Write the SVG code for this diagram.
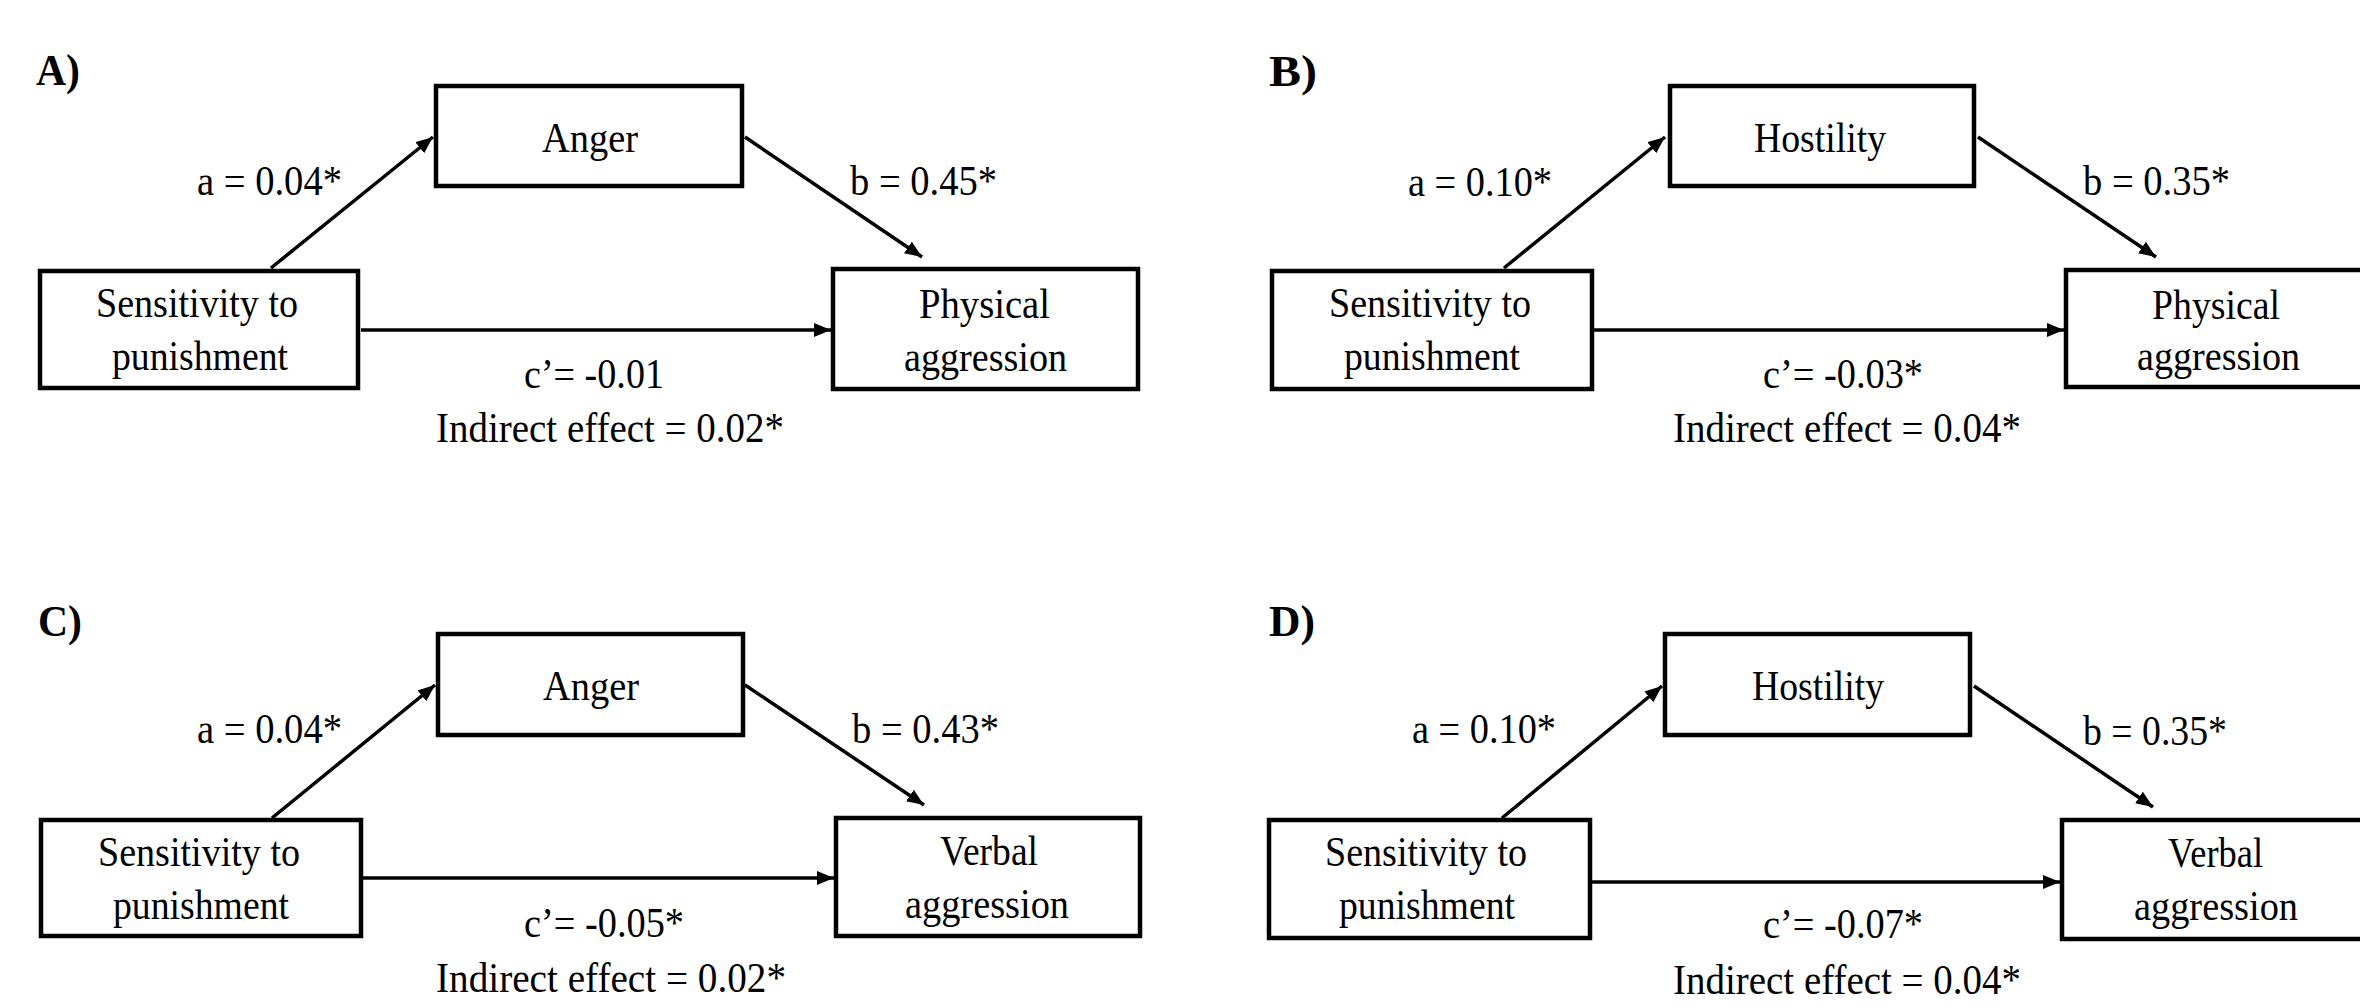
<svg xmlns="http://www.w3.org/2000/svg" width="2360" height="1007" viewBox="0 0 2360 1007">
<style>
text{font-family:"Liberation Serif","Times New Roman",serif;font-size:43px;fill:#000}
.panel{font-weight:bold;font-size:44px}
.box{fill:#fff;stroke:#000;stroke-width:4.5}
.edge{stroke:#000;stroke-width:3.5;fill:none;marker-end:url(#ah)}
</style>
<defs>
<marker id="ah" markerUnits="userSpaceOnUse" markerWidth="20" markerHeight="16" refX="17" refY="7" orient="auto">
<path d="M0,0 L17,7 L0,14 z" fill="#000"/>
</marker>
</defs>
<rect width="2360" height="1007" fill="#fff"/>

<!-- Panel labels -->
<g id="labels">
<text class="panel" x="36" y="85" textLength="44" lengthAdjust="spacingAndGlyphs">A)</text>
<text class="panel" x="1269" y="86" textLength="48" lengthAdjust="spacingAndGlyphs">B)</text>
<text class="panel" x="38" y="636" textLength="44" lengthAdjust="spacingAndGlyphs">C)</text>
<text class="panel" x="1269" y="636" textLength="46" lengthAdjust="spacingAndGlyphs">D)</text>
</g>

<!-- Connectors -->
<g id="connectors">
<line class="edge" x1="271" y1="268" x2="433" y2="137"/>
<line class="edge" x1="745" y1="137" x2="922" y2="257"/>
<line class="edge" x1="361" y1="330" x2="831" y2="330"/>
<line class="edge" x1="1504" y1="268" x2="1665" y2="137"/>
<line class="edge" x1="1978" y1="137" x2="2156" y2="257"/>
<line class="edge" x1="1594" y1="330" x2="2064" y2="330"/>
<line class="edge" x1="272" y1="818" x2="435" y2="685"/>
<line class="edge" x1="745" y1="685" x2="924" y2="805"/>
<line class="edge" x1="363" y1="878" x2="834" y2="878"/>
<line class="edge" x1="1502" y1="818" x2="1662" y2="686"/>
<line class="edge" x1="1974" y1="686" x2="2153" y2="807"/>
<line class="edge" x1="1592" y1="882" x2="2060" y2="882"/>
</g>

<!-- Edge labels -->
<g id="edge-labels">
<text x="197" y="195" textLength="145" lengthAdjust="spacingAndGlyphs">a = 0.04*</text>
<text x="850" y="195" textLength="147" lengthAdjust="spacingAndGlyphs">b = 0.45*</text>
<text x="524" y="388" textLength="140" lengthAdjust="spacingAndGlyphs">c’= -0.01</text>
<text x="436" y="442" textLength="348" lengthAdjust="spacingAndGlyphs">Indirect effect = 0.02*</text>

<text x="1408" y="196" textLength="144" lengthAdjust="spacingAndGlyphs">a = 0.10*</text>
<text x="2083" y="195" textLength="147" lengthAdjust="spacingAndGlyphs">b = 0.35*</text>
<text x="1763" y="388" textLength="160" lengthAdjust="spacingAndGlyphs">c’= -0.03*</text>
<text x="1673" y="442" textLength="348" lengthAdjust="spacingAndGlyphs">Indirect effect = 0.04*</text>

<text x="197" y="743" textLength="145" lengthAdjust="spacingAndGlyphs">a = 0.04*</text>
<text x="852" y="743" textLength="147" lengthAdjust="spacingAndGlyphs">b = 0.43*</text>
<text x="524" y="937" textLength="160" lengthAdjust="spacingAndGlyphs">c’= -0.05*</text>
<text x="436" y="992" textLength="350" lengthAdjust="spacingAndGlyphs">Indirect effect = 0.02*</text>

<text x="1412" y="743" textLength="144" lengthAdjust="spacingAndGlyphs">a = 0.10*</text>
<text x="2083" y="745" textLength="144" lengthAdjust="spacingAndGlyphs">b = 0.35*</text>
<text x="1763" y="938" textLength="160" lengthAdjust="spacingAndGlyphs">c’= -0.07*</text>
<text x="1673" y="994" textLength="348" lengthAdjust="spacingAndGlyphs">Indirect effect = 0.04*</text>
</g>

<!-- Panel A nodes -->
<g id="A-anger">
<rect class="box" x="436" y="86" width="306" height="100"/>
<text x="542" y="152" textLength="96" lengthAdjust="spacingAndGlyphs">Anger</text>
</g>
<g id="A-sensitivity">
<rect class="box" x="40" y="271" width="318" height="117"/>
<text x="96" y="317" textLength="202" lengthAdjust="spacingAndGlyphs">Sensitivity to</text>
<text x="112" y="370" textLength="176" lengthAdjust="spacingAndGlyphs">punishment</text>
</g>
<g id="A-physical">
<rect class="box" x="833" y="269" width="305" height="120"/>
<text x="919" y="318" textLength="131" lengthAdjust="spacingAndGlyphs">Physical</text>
<text x="904" y="371" textLength="163" lengthAdjust="spacingAndGlyphs">aggression</text>
</g>

<!-- Panel B nodes -->
<g id="B-hostility">
<rect class="box" x="1670" y="86" width="304" height="100"/>
<text x="1754" y="152" textLength="132" lengthAdjust="spacingAndGlyphs">Hostility</text>
</g>
<g id="B-sensitivity">
<rect class="box" x="1272" y="271" width="320" height="118"/>
<text x="1329" y="317" textLength="202" lengthAdjust="spacingAndGlyphs">Sensitivity to</text>
<text x="1344" y="370" textLength="176" lengthAdjust="spacingAndGlyphs">punishment</text>
</g>
<g id="B-physical">
<rect class="box" x="2066" y="270" width="400" height="117"/>
<text x="2152" y="319" textLength="128" lengthAdjust="spacingAndGlyphs">Physical</text>
<text x="2137" y="370" textLength="163" lengthAdjust="spacingAndGlyphs">aggression</text>
</g>

<!-- Panel C nodes -->
<g id="C-anger">
<rect class="box" x="438" y="634" width="305" height="101"/>
<text x="543" y="700" textLength="96" lengthAdjust="spacingAndGlyphs">Anger</text>
</g>
<g id="C-sensitivity">
<rect class="box" x="41" y="820" width="320" height="116"/>
<text x="98" y="866" textLength="202" lengthAdjust="spacingAndGlyphs">Sensitivity to</text>
<text x="113" y="919" textLength="176" lengthAdjust="spacingAndGlyphs">punishment</text>
</g>
<g id="C-verbal">
<rect class="box" x="836" y="818" width="304" height="118"/>
<text x="940" y="865" textLength="98" lengthAdjust="spacingAndGlyphs">Verbal</text>
<text x="905" y="918" textLength="164" lengthAdjust="spacingAndGlyphs">aggression</text>
</g>

<!-- Panel D nodes -->
<g id="D-hostility">
<rect class="box" x="1665" y="634" width="305" height="101"/>
<text x="1752" y="700" textLength="132" lengthAdjust="spacingAndGlyphs">Hostility</text>
</g>
<g id="D-sensitivity">
<rect class="box" x="1269" y="820" width="321" height="118"/>
<text x="1325" y="866" textLength="202" lengthAdjust="spacingAndGlyphs">Sensitivity to</text>
<text x="1339" y="919" textLength="176" lengthAdjust="spacingAndGlyphs">punishment</text>
</g>
<g id="D-verbal">
<rect class="box" x="2062" y="820" width="400" height="119"/>
<text x="2168" y="867" textLength="95" lengthAdjust="spacingAndGlyphs">Verbal</text>
<text x="2134" y="920" textLength="164" lengthAdjust="spacingAndGlyphs">aggression</text>
</g>
</svg>
